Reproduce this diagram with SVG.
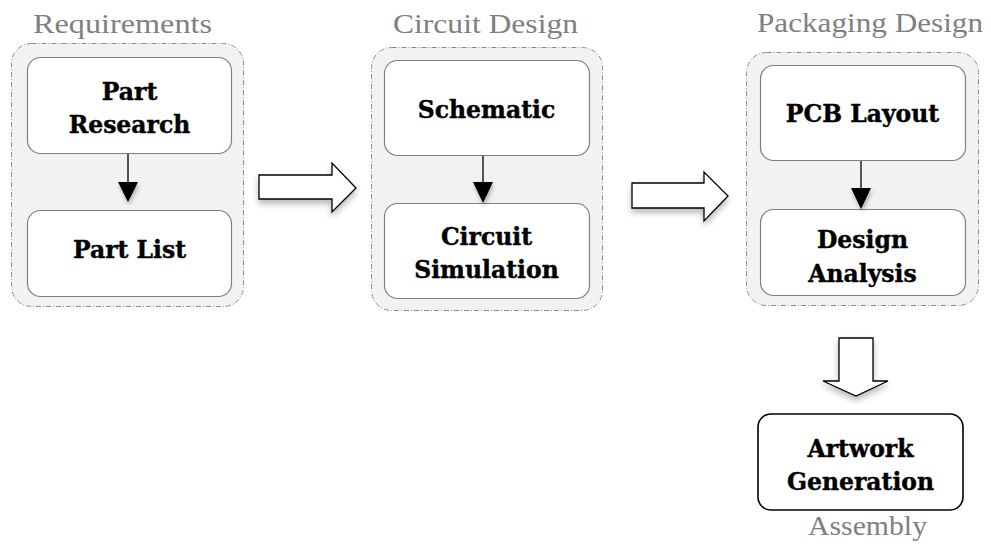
<svg xmlns="http://www.w3.org/2000/svg" width="991" height="554" viewBox="0 0 991 554">
  <defs>
    <filter id="shadow" x="-30%" y="-30%" width="160%" height="180%">
      <feDropShadow dx="0" dy="4" stdDeviation="3" flood-color="#000" flood-opacity="0.28"/>
    </filter>
    <filter id="headShadow" x="-50%" y="-50%" width="200%" height="200%">
      <feDropShadow dx="1" dy="3" stdDeviation="2" flood-color="#000" flood-opacity="0.3"/>
    </filter>
  </defs>
  <style>
    .stage { fill: #f2f2f2; stroke: #8c8c8c; stroke-width: 1; stroke-dasharray: 5 2 1 2; }
    .box { fill: #ffffff; stroke: #808080; stroke-width: 1.2; }
    .boxDark { fill: #ffffff; stroke: #000000; stroke-width: 1.6; }
    .label { font-family: "DejaVu Serif", "Liberation Serif", serif; font-weight: bold; font-size: 23.5px; fill: #000; stroke: #000; stroke-width: 0.4; text-anchor: middle; }
    .stageTitle { font-family: "Liberation Serif", serif; font-size: 27px; fill: #808080; text-anchor: middle; }
    .link { stroke: #000; stroke-width: 1.3; fill: none; }
    .head { fill: #000; }
    .bigArrow { fill: #ffffff; stroke: #000; stroke-width: 1.3; stroke-linejoin: miter; }
  </style>

  <!-- stage titles -->
  <text class="stageTitle" x="122.5" y="33" textLength="179" lengthAdjust="spacingAndGlyphs">Requirements</text>
  <text class="stageTitle" x="485.5" y="33" textLength="185" lengthAdjust="spacingAndGlyphs">Circuit Design</text>
  <text class="stageTitle" x="870" y="32" textLength="226" lengthAdjust="spacingAndGlyphs">Packaging Design</text>
  <text class="stageTitle" x="867.5" y="535" textLength="119" lengthAdjust="spacingAndGlyphs">Assembly</text>

  <!-- stage containers -->
  <rect class="stage" x="11.5" y="43.5" width="232" height="263" rx="20"/>
  <rect class="stage" x="371.5" y="47.5" width="231" height="263" rx="20"/>
  <rect class="stage" x="746.5" y="52.5" width="232" height="253" rx="20"/>

  <!-- nodes -->
  <g id="part-research">
    <rect class="box" x="27.5" y="57.5" width="204" height="96" rx="13"/>
    <text class="label" x="129.5" y="100">Part</text>
    <text class="label" x="129.5" y="133">Research</text>
  </g>
  <g id="part-list">
    <rect class="box" x="27.5" y="210.5" width="204" height="86" rx="13"/>
    <text class="label" x="129.5" y="258">Part List</text>
  </g>
  <g id="schematic">
    <rect class="box" x="384.5" y="60.5" width="205" height="95" rx="13"/>
    <text class="label" x="486.5" y="118">Schematic</text>
  </g>
  <g id="circuit-simulation">
    <rect class="box" x="384.5" y="203.5" width="205" height="95" rx="13"/>
    <text class="label" x="486.5" y="245">Circuit</text>
    <text class="label" x="486.5" y="278">Simulation</text>
  </g>
  <g id="pcb-layout">
    <rect class="box" x="760.5" y="65.5" width="205" height="95" rx="13"/>
    <text class="label" x="862.5" y="122">PCB Layout</text>
  </g>
  <g id="design-analysis">
    <rect class="box" x="760.5" y="209.5" width="205" height="86" rx="13"/>
    <text class="label" x="862.5" y="248">Design</text>
    <text class="label" x="862.5" y="282">Analysis</text>
  </g>
  <g id="artwork-generation">
    <rect class="boxDark" x="758" y="414" width="205" height="96" rx="13"/>
    <text class="label" x="860.5" y="457">Artwork</text>
    <text class="label" x="860.5" y="490">Generation</text>
  </g>

  <!-- connectors -->
  <g id="connectors">
    <line class="link" x1="128" y1="154" x2="128" y2="184"/>
    <polygon class="head" filter="url(#headShadow)" points="118,182 138,182 128,202"/>

    <line class="link" x1="483" y1="156" x2="483" y2="184"/>
    <polygon class="head" filter="url(#headShadow)" points="473,182 493,182 483,203"/>

    <line class="link" x1="861" y1="161" x2="861" y2="190"/>
    <polygon class="head" filter="url(#headShadow)" points="851,188 871,188 861,209"/>

    <polygon class="bigArrow" filter="url(#shadow)" points="259,175 332,175 332,163 356,188 332,212 332,199 259,199"/>
    <polygon class="bigArrow" filter="url(#shadow)" points="632,183 704,183 704,172 728,196 704,221 704,208 632,208"/>
    <polygon class="bigArrow" filter="url(#shadow)" points="839,338 873,338 873,381 888,381 856,396 823,381 839,381"/>
  </g>
</svg>
